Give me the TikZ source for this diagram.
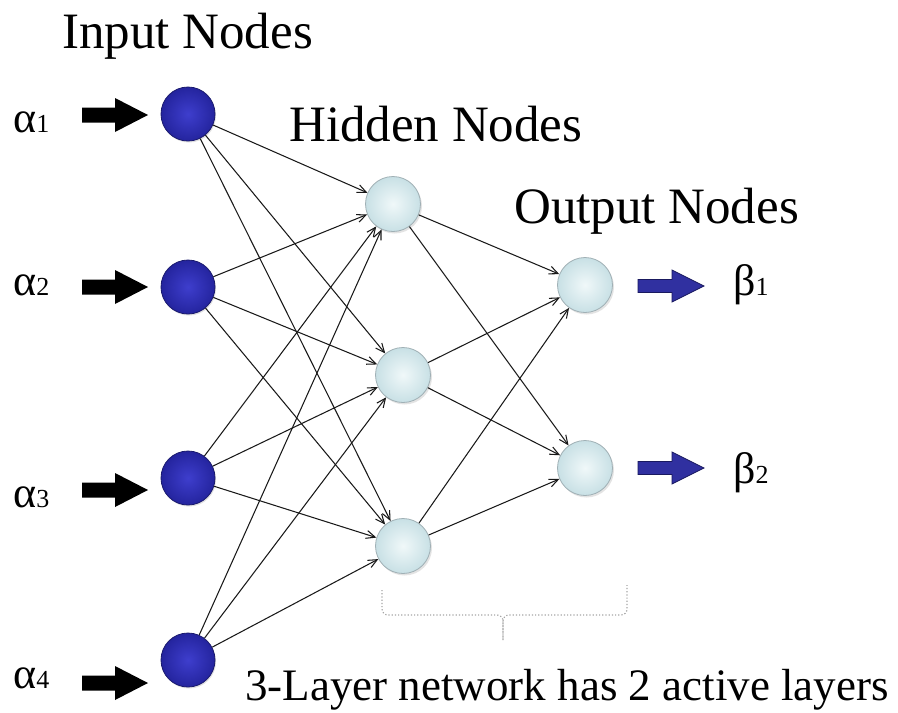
\documentclass[tikz,border=0pt]{standalone}
\usepackage{fontspec}
\setmainfont{Liberation Serif}
\usetikzlibrary{arrows.meta,shadows}

\definecolor{inblue}{RGB}{62,62,205}
\definecolor{inblueedge}{RGB}{36,36,158}
\definecolor{inrim}{RGB}{26,26,110}
\definecolor{hidcore}{RGB}{240,248,249}
\definecolor{hidedge}{RGB}{200,224,229}
\definecolor{hidrim}{RGB}{160,176,181}
\definecolor{outarrow}{RGB}{48,48,160}
\definecolor{outarrowrim}{RGB}{25,25,95}
\definecolor{wire}{RGB}{25,25,25}

\tikzset{
  inputnode/.style={circle, minimum size=54pt, inner sep=0pt, draw=inrim, line width=0.8pt,
    inner color=inblue, outer color=inblueedge,
    drop shadow={shadow xshift=1pt, shadow yshift=-1.5pt, opacity=0.25}},
  lightnode/.style={circle, minimum size=55pt, inner sep=0pt, draw=hidrim, line width=0.8pt,
    inner color=hidcore, outer color=hidedge,
    drop shadow={shadow xshift=1.5pt, shadow yshift=-2pt, opacity=0.22}},
  wirearrow/.style={draw=wire, line width=1.05pt, -{Straight Barb[length=9pt,width=8pt,line width=1.05pt]}},
  title/.style={font=\fontsize{51}{60}\selectfont, anchor=base west, inner sep=0pt},
  caption/.style={font=\fontsize{45}{54}\selectfont, anchor=base west, inner sep=0pt},
  symlabel/.style={anchor=base west, inner sep=0pt},
  bracepart/.style={draw=gray!70, dotted, line width=1.2pt, rounded corners=6pt},
  pics/blockarrow/.style n args={4}{code={
    % #1 colour options, #2 shaft half height, #3 shaft length, #4 head half height
    \path[#1] (0,-#2) -- (#3,-#2) -- (#3,-#4) -- (66,0) -- (#3,#4) -- (#3,#2) -- (0,#2) -- cycle;
  }}
}

\newcommand{\alphalabel}[1]{{\fontsize{44}{50}\selectfont α}{\fontsize{26}{30}\selectfont #1}}
\newcommand{\betalabel}[1]{{\fontsize{44}{50}\selectfont β}{\fontsize{26}{30}\selectfont #1}}

\begin{document}
\begin{tikzpicture}[x=1pt, y=-1pt]
  \useasboundingbox[fill=white] (0,0) rectangle (898,713);

  % layer titles
  \node[title] (tin)  at (62,48)  {Input Nodes};
  \node[title] (thid) at (289,141) {Hidden Nodes};
  \node[title] (tout) at (514,223) {Output Nodes};

  % input layer
  \node[inputnode] (i1) at (188,114) {};
  \node[inputnode] (i2) at (188,287) {};
  \node[inputnode] (i3) at (188,478) {};
  \node[inputnode] (i4) at (188,660) {};

  % hidden layer
  \node[lightnode] (h1) at (393,204) {};
  \node[lightnode] (h2) at (403,375) {};
  \node[lightnode] (h3) at (403,546) {};

  % output layer
  \node[lightnode] (o1) at (585,285) {};
  \node[lightnode] (o2) at (585,468) {};

  % fully connected weights
  \foreach \a in {1,2,3,4}
    \foreach \b in {1,2,3}
      \draw[wirearrow] (i\a) -- (h\b);
  \foreach \b in {1,2,3}
    \foreach \c in {1,2}
      \draw[wirearrow] (h\b) -- (o\c);

  % inputs
  \node[symlabel] (a1) at (13,132) {\alphalabel{1}};
  \node[symlabel] (a2) at (13,295) {\alphalabel{2}};
  \node[symlabel] (a3) at (13,507) {\alphalabel{3}};
  \node[symlabel] (a4) at (13,688) {\alphalabel{4}};
  \pic at (82,115) {blockarrow={fill=black}{7.5}{33}{17}};
  \pic at (82,287) {blockarrow={fill=black}{7.5}{33}{17}};
  \pic at (82,490) {blockarrow={fill=black}{7.5}{33}{17}};
  \pic at (82,683) {blockarrow={fill=black}{7.5}{33}{17}};

  % outputs
  \pic at (638,286) {blockarrow={fill=outarrow, draw=outarrowrim, line width=0.8pt}{6.5}{34}{16}};
  \pic at (638,468) {blockarrow={fill=outarrow, draw=outarrowrim, line width=0.8pt}{6.5}{34}{16}};
  \node[symlabel] (b1) at (733,295) {\betalabel{1}};
  \node[symlabel] (b2) at (733,483) {\betalabel{2}};

  % brace over the active layers
  \draw[bracepart] (382,590) -- (382,615) -- (503,615) -- (503,640);
  \draw[bracepart] (503,640) -- (503,615) -- (627,615) -- (627,585);

  \node[caption] (cap) at (245,700) {3-Layer network has 2 active layers};
\end{tikzpicture}
\end{document}
